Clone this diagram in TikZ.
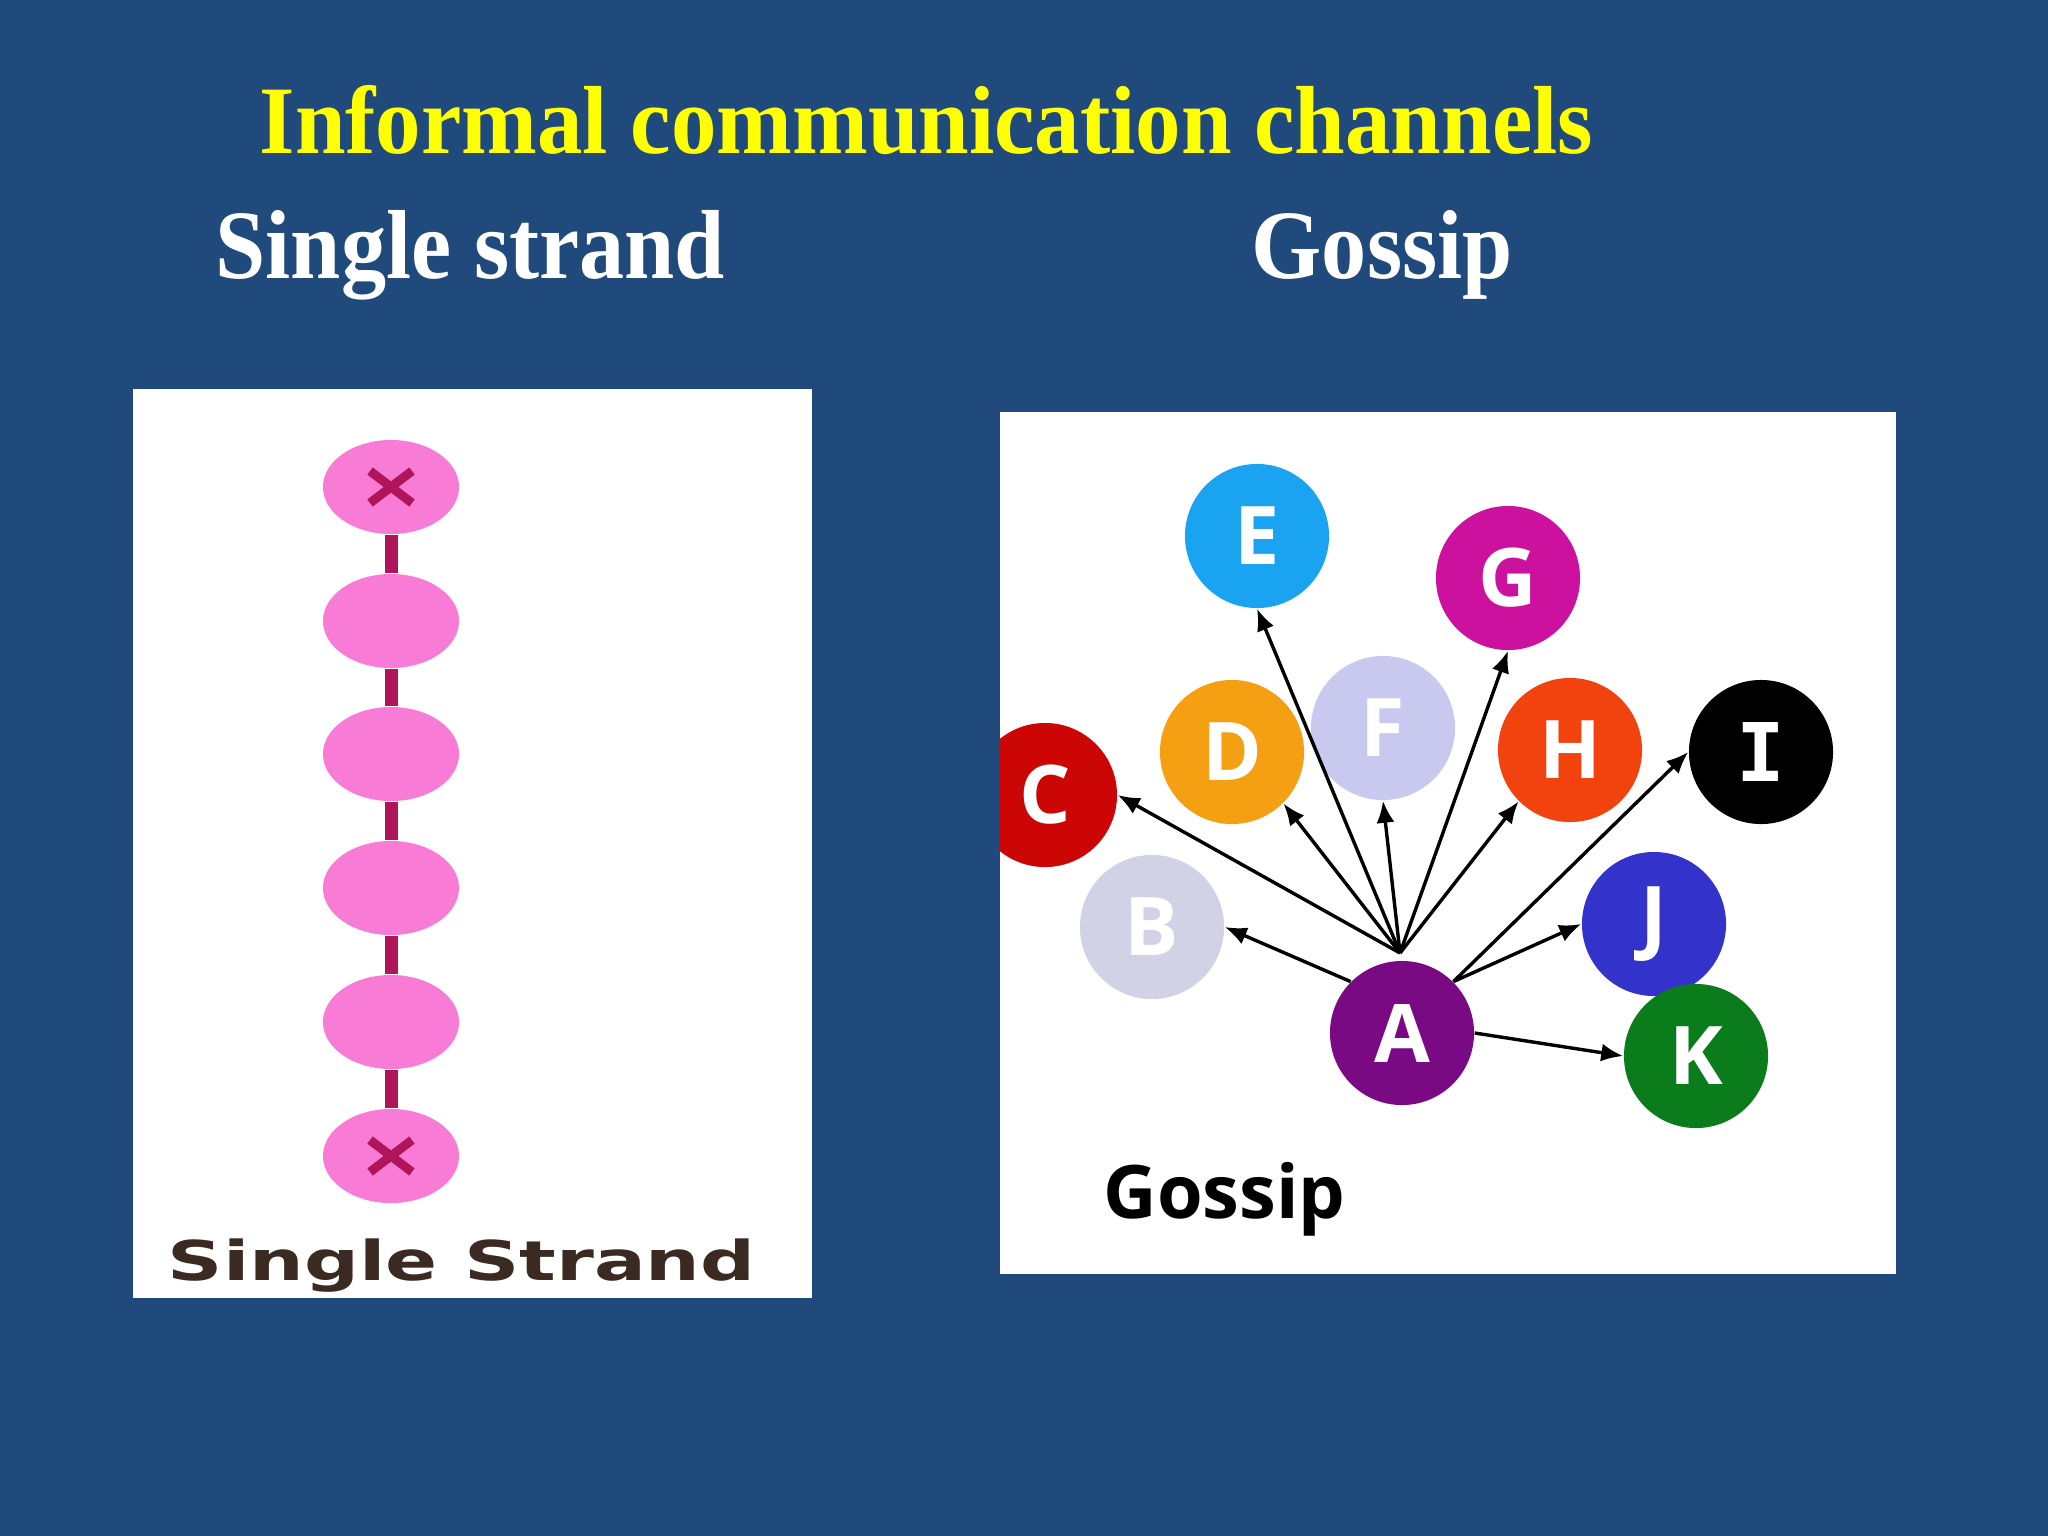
\documentclass[tikz,border=0pt]{standalone}
\usepackage{fontspec}
\setmainfont{Liberation Serif}
\newfontfamily\gsans{Open Sans}
\newfontfamily\ssans{DejaVu Sans}
\newfontfamily\monoI{DejaVu Sans Mono}
\usetikzlibrary{arrows.meta,shapes.geometric}
\definecolor{bg}{HTML}{214A7C}
\definecolor{titleyellow}{HTML}{FFFF00}
\definecolor{pinkfill}{HTML}{F87CD6}
\definecolor{strandcol}{HTML}{B0155A}
\definecolor{labelbrown}{HTML}{3A2A22}
\definecolor{cE}{HTML}{1AA3F0}
\definecolor{cG}{HTML}{CC119F}
\definecolor{cD}{HTML}{F5A012}
\definecolor{cF}{HTML}{C9C9F0}
\definecolor{cC}{HTML}{CC0505}
\definecolor{cH}{HTML}{F2420E}
\definecolor{cI}{HTML}{000000}
\definecolor{cB}{HTML}{D2D2E6}
\definecolor{cJ}{HTML}{3333CC}
\definecolor{cA}{HTML}{7A0A84}
\definecolor{cK}{HTML}{0B7C1C}
\tikzset{
  heading/.style={anchor=base west, inner sep=0, text=white, font=\fontsize{27.9}{30}\selectfont\bfseries},
  panel/.style={fill=white, inner sep=0, anchor=north west},
  pinkell/.style={ellipse, fill=pinkfill, inner sep=0, minimum width=1.36cm, minimum height=0.94cm},
  strand/.style={line width=0.13cm, strandcol},
  xmark/.style={line width=0.09cm, strandcol},
  ball/.style={circle, inner sep=0, minimum size=1.44cm, text=white, font=\gsans\bfseries\fontsize{23}{23}\selectfont},
  arr/.style={-{Latex[length=0.22cm,width=0.18cm]}, line width=0.034cm, black}
}
\begin{document}
\begin{tikzpicture}[x=0.01cm,y=-0.01cm]
\useasboundingbox (0,0) rectangle (2048,1536);
\fill[bg] (0,0) rectangle (2048,1536);

% titles
\node[anchor=base west, inner sep=0, text=titleyellow, font=\fontsize{27.5}{30}\selectfont\bfseries] (title) at (259,153) {\scalebox{0.94}[1]{Informal communication channels}};
\node[heading] (h1) at (215,278) {\scalebox{0.92}[1]{Single strand}};
\node[heading] (h2) at (1251,278) {\scalebox{0.92}[1]{Gossip}};

% left panel
\node[panel, minimum width=6.79cm, minimum height=9.09cm] (lpanel) at (132,388) {};
\node[pinkell] (s1) at (391,487) {};
\node[pinkell] (s2) at (391,621) {};
\node[pinkell] (s3) at (391,754) {};
\node[pinkell] (s4) at (391,888) {};
\node[pinkell] (s5) at (391,1022) {};
\node[pinkell] (s6) at (391,1156) {};
\draw[strand] (s1) -- (s2);
\draw[strand] (s2) -- (s3);
\draw[strand] (s3) -- (s4);
\draw[strand] (s4) -- (s5);
\draw[strand] (s5) -- (s6);
\foreach \n in {s1,s6}{
  \draw[xmark] ([shift={(-21,-16)}]\n.center) -- ([shift={(21,16)}]\n.center);
  \draw[xmark] ([shift={(-21,16)}]\n.center) -- ([shift={(21,-16)}]\n.center);
}
\node[anchor=base west, inner sep=0, text=labelbrown, font=\ssans\bfseries\fontsize{15.6}{18}\selectfont] (slabel) at (167,1280) {\scalebox{1.40}[1]{Single Strand}};

% right panel
\node[panel, minimum width=8.96cm, minimum height=8.62cm] (rpanel) at (999,411) {};
\begin{scope}
\clip (999,411) rectangle (1895,1273);
\node[ball, fill=cE] (E) at (1257,536) {E};
\node[ball, fill=cG] (G) at (1508,578) {G};
\node[ball, fill=cD] (D) at (1232,752) {D};
\node[ball, fill=cF] (F) at (1383,728) {F};
\node[ball, fill=cC] (C) at (1045,795) {C};
\node[ball, fill=cH] (H) at (1570,750) {H};
\node[ball, fill=cI] (I) at (1761,752) {\monoI\bfseries I};
\node[ball, fill=cB] (B) at (1152,927) {B};
\node[ball, fill=cJ] (J) at (1654,924) {J};
\node[ball, fill=cA] (A) at (1402,1033) {A};
\node[ball, fill=cK] (K) at (1696,1056) {K};
\coordinate (hub) at (1400,953);
\draw[arr] (hub) -- (E.south);
\draw[arr] (hub) -- (G.south);
\draw[arr] (hub) -- (C.east);
\draw[arr] (hub) -- (D.-45);
\draw[arr] (hub) -- (F.south);
\draw[arr] (hub) -- (H.-135);
\draw[arr] (A.135) -- (B.east);
\draw[arr] (A.45) -- (I.west);
\draw[arr] (A.45) -- (J.west);
\draw[arr] (A.east) -- (K.west);
\end{scope}
\node[anchor=base west, inner sep=0, font=\gsans\bfseries\fontsize{21}{21}\selectfont] (glabel) at (1103,1218) {Gossip};
\end{tikzpicture}
\end{document}
